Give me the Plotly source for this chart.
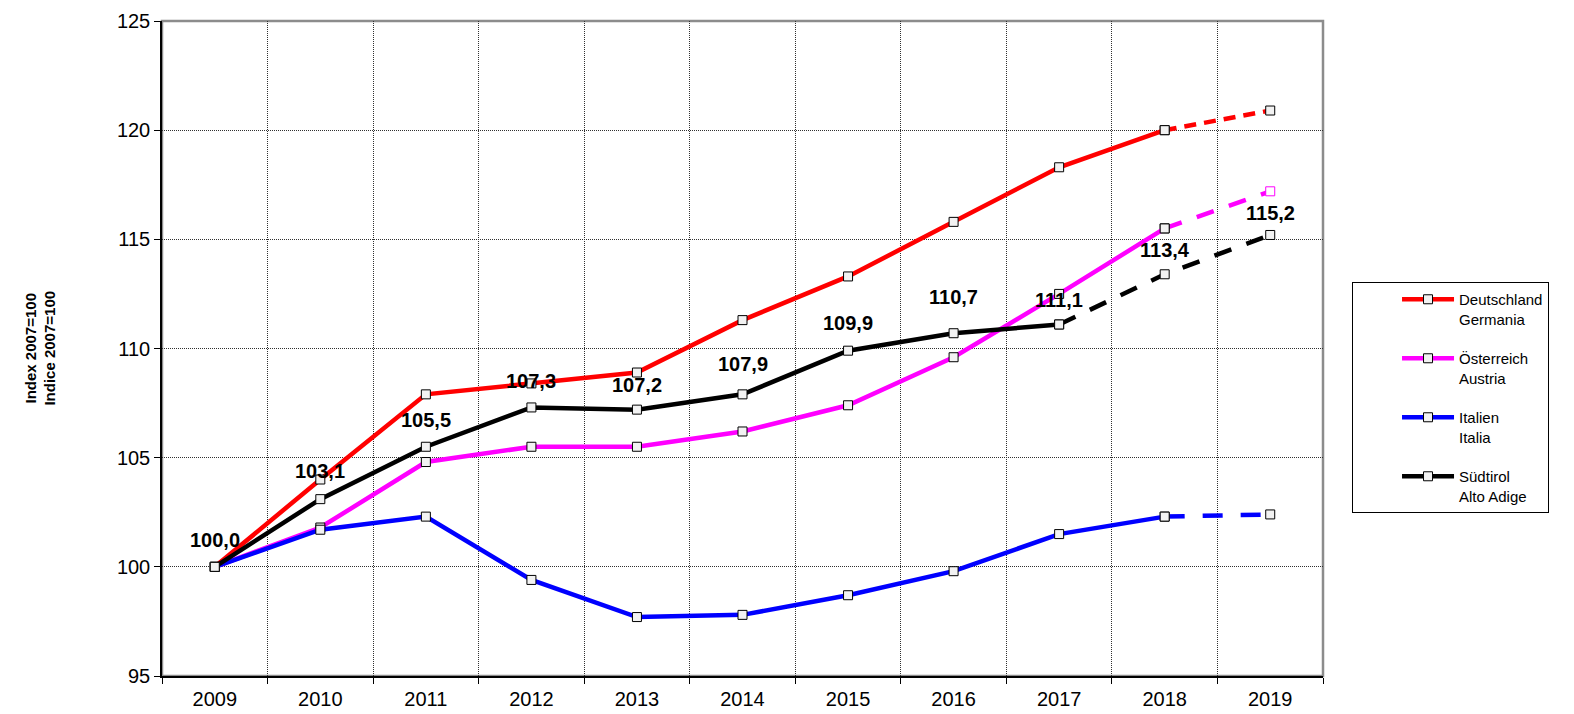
import plotly.graph_objects as go

years = [2009, 2010, 2011, 2012, 2013, 2014, 2015, 2016, 2017, 2018, 2019]

deutschland = [100.0, 104.0, 107.9, 108.4, 108.9, 111.3, 113.3, 115.8, 118.3, 120.0, 120.9]
oesterreich = [100.0, 101.8, 104.8, 105.5, 105.5, 106.2, 107.4, 109.6, 112.5, 115.5, 117.2]
italien = [100.0, 101.7, 102.3, 99.4, 97.7, 97.8, 98.7, 99.8, 101.5, 102.3, 102.4]
suedtirol = [100.0, 103.1, 105.5, 107.3, 107.2, 107.9, 109.9, 110.7, 111.1, 113.4, 115.2]
suedtirol_labels = ["100,0", "103,1", "105,5", "107,3", "107,2", "107,9",
                    "109,9", "110,7", "111,1", "113,4", "115,2"]

# vertical pixel offsets of the data labels above their points (style only)
label_yshift = [27, 28, 27, 26, 25, 30, 28, 36, 24, 24, 22]

series = [
    dict(name="Deutschland<br>Germania", values=deutschland, color="#FF0000",
         solid_end=9, dash="12px,8px", last_marker_line="#000000"),
    dict(name="Österreich<br>Austria", values=oesterreich, color="#FF00FF",
         solid_end=9, dash="18px,16px", last_marker_line="#FF00FF"),
    dict(name="Italien<br>Italia", values=italien, color="#0000FF",
         solid_end=9, dash="20px,18px", last_marker_line="#000000"),
    dict(name="Südtirol<br>Alto Adige", values=suedtirol, color="#000000",
         solid_end=8, dash="18px,16px", last_marker_line="#000000"),
]

FONT = "Arial, Liberation Sans, sans-serif"
MARKER_FILL = "#F2F2F2"
LW = 4.5

fig = go.Figure()
for i, s in enumerate(series):
    e = s["solid_end"]
    dx = years[e:]
    dy = s["values"][e:]
    line_cols = ["#000000"] * (len(dx) - 1) + [s["last_marker_line"]]
    fills = [MARKER_FILL] * (len(dx) - 1) + (["#FFFFFF"] if s["last_marker_line"] != "#000000" else [MARKER_FILL])
    fig.add_trace(go.Scatter(
        x=dx, y=dy, mode="lines+markers", name=s["name"], legendgroup=f"g{i}",
        showlegend=False, hoverinfo="skip",
        line=dict(color=s["color"], width=LW, dash=s["dash"]),
        marker=dict(symbol="square", size=9, color=fills,
                    line=dict(color=line_cols, width=1)),
    ))
    fig.add_trace(go.Scatter(
        x=years[:e + 1], y=s["values"][:e + 1], mode="lines+markers",
        name=s["name"], legendgroup=f"g{i}", showlegend=True,
        line=dict(color=s["color"], width=LW),
        marker=dict(symbol="square", size=9, color=MARKER_FILL,
                    line=dict(color="#000000", width=1)),
    ))

annotations = []
for x, y, t, dy in zip(years, suedtirol, suedtirol_labels, label_yshift):
    annotations.append(dict(x=x, y=y, text=t, showarrow=False, yshift=dy,
                            font=dict(family=FONT, size=20, color="#000000", weight="bold")))

annotations.append(dict(
    x=-0.105, y=0.5, xref="paper", yref="paper", showarrow=False, textangle=-90,
    xanchor="center", yanchor="middle",
    text="<b>Index 2007=100<br>Indice 2007=100</b>",
    font=dict(family=FONT, size=15, color="#000000"),
))

fig.update_layout(
    width=1574, height=714,
    margin=dict(l=154, r=259, t=13, b=46, pad=0, autoexpand=False),
    paper_bgcolor="#FFFFFF", plot_bgcolor="#FFFFFF",
    font=dict(family=FONT, color="#000000"),
    annotations=annotations,
    showlegend=True,
    legend=dict(
        x=1.025, y=0.6015, xanchor="left", yanchor="top",
        bordercolor="#000000", borderwidth=1, bgcolor="#FFFFFF",
        font=dict(family=FONT, size=15, color="#000000"),
        tracegroupgap=17, valign="top", traceorder="grouped",
        indentation=44, itemwidth=52,
    ),
    shapes=[dict(type="rect", xref="paper", yref="paper", x0=0, x1=1, y0=0, y1=1,
                 line=dict(color="#8C8C8C", width=2.5), layer="below")],
    xaxis=dict(
        range=[2008.5, 2019.5], tickmode="array", tickvals=years,
        ticktext=[str(y) for y in years], ticks="", showgrid=False, zeroline=False,
        showline=True, linecolor="#000000", linewidth=1.5, automargin=False,
        ticklabelstandoff=4,
        tickfont=dict(family=FONT, size=20, color="#000000"),
        minor=dict(tick0=2008.5, dtick=1, ticks="outside", ticklen=6,
                   tickcolor="#000000", showgrid=True, gridcolor="#303030",
                   griddash="1px,1px", gridwidth=1),
    ),
    yaxis=dict(
        range=[95, 125], tickmode="linear", tick0=95, dtick=5,
        ticks="outside", ticklen=6, tickcolor="#000000",
        showgrid=True, gridcolor="#303030", griddash="1px,1px", gridwidth=1,
        zeroline=False, showline=True, linecolor="#000000", linewidth=1.5,
        automargin=False,
        tickfont=dict(family=FONT, size=20, color="#000000"),
    ),
)

fig.write_html("out.html")
